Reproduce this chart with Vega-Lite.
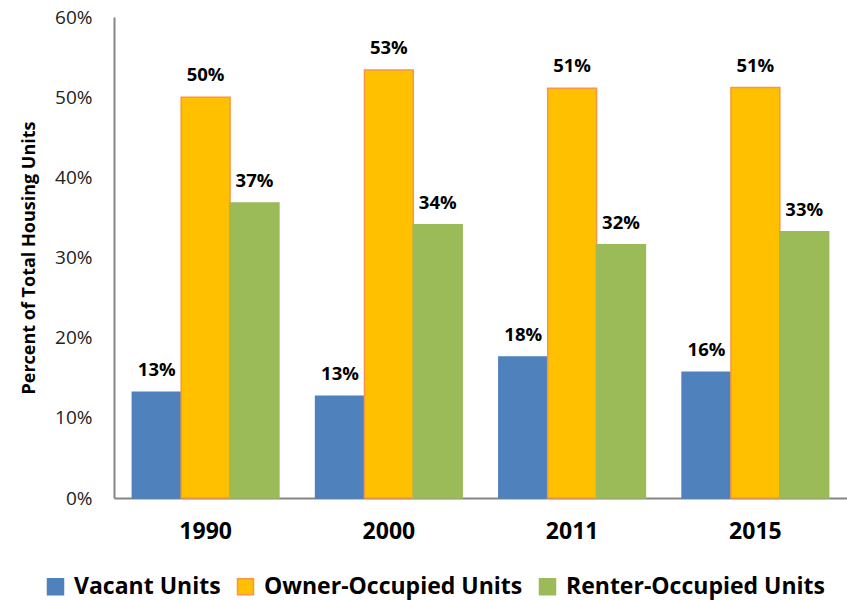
{
  "$schema": "https://vega.github.io/schema/vega-lite/v6.json",
  "autosize": "none",
  "width": 733,
  "height": 481,
  "padding": {"left": 114, "top": 17, "right": 0, "bottom": 102},
  "background": "white",
  "config": {
    "font": "Open Sans",
    "view": {"stroke": null}
  },
  "data": {
    "values": [
      {"year": "1990", "series": "Vacant Units", "value": 0.132},
      {"year": "1990", "series": "Owner-Occupied Units", "value": 0.500},
      {"year": "1990", "series": "Renter-Occupied Units", "value": 0.368},
      {"year": "2000", "series": "Vacant Units", "value": 0.127},
      {"year": "2000", "series": "Owner-Occupied Units", "value": 0.534},
      {"year": "2000", "series": "Renter-Occupied Units", "value": 0.341},
      {"year": "2011", "series": "Vacant Units", "value": 0.176},
      {"year": "2011", "series": "Owner-Occupied Units", "value": 0.511},
      {"year": "2011", "series": "Renter-Occupied Units", "value": 0.316},
      {"year": "2015", "series": "Vacant Units", "value": 0.157},
      {"year": "2015", "series": "Owner-Occupied Units", "value": 0.512},
      {"year": "2015", "series": "Renter-Occupied Units", "value": 0.332}
    ]
  },
  "encoding": {
    "x": {
      "field": "year", "type": "nominal",
      "scale": {"paddingInner": 0.2, "paddingOuter": 0.1},
      "axis": {
        "title": null, "labelAngle": 0, "labelFontSize": 23, "labelFontWeight": "bold",
        "labelColor": "#000", "labelPadding": 22, "ticks": false,
        "domainColor": "#868686", "domainWidth": 2
      }
    },
    "xOffset": {
      "field": "series", "type": "nominal",
      "sort": ["Vacant Units", "Owner-Occupied Units", "Renter-Occupied Units"],
      "scale": {"paddingInner": 0, "paddingOuter": 0}
    },
    "y": {
      "field": "value", "type": "quantitative",
      "scale": {"domain": [0, 0.6]},
      "axis": {
        "title": "Percent of Total Housing Units", "titleFontSize": 18, "titleFontWeight": "bold",
        "titleColor": "#000", "titlePadding": 16,
        "format": ".0%", "values": [0, 0.1, 0.2, 0.3, 0.4, 0.5, 0.6],
        "labelFontSize": 19, "labelColor": "#222", "labelPadding": 22,
        "ticks": false, "grid": false, "domainColor": "#868686", "domainWidth": 2
      }
    }
  },
  "layer": [
    {
      "mark": {"type": "bar", "strokeWidth": 1.5},
      "encoding": {
        "fill": {
          "field": "series", "type": "nominal",
          "sort": ["Vacant Units", "Owner-Occupied Units", "Renter-Occupied Units"],
          "scale": {"domain": ["Vacant Units", "Owner-Occupied Units", "Renter-Occupied Units"], "range": ["#4F81BD", "#FFC000", "#9BBB59"]},
          "legend": {
            "title": null, "orient": "none", "direction": "horizontal",
            "legendX": -70, "legendY": 558,
            "symbolType": "square", "symbolSize": 256, "symbolStrokeWidth": 1.5,
            "labelFontSize": 23, "labelFontWeight": "bold", "labelColor": "#000",
            "labelLimit": 0, "columnPadding": 13, "labelOffset": 7
          }
        },
        "stroke": {
          "field": "series", "type": "nominal",
          "scale": {"domain": ["Vacant Units", "Owner-Occupied Units", "Renter-Occupied Units"], "range": ["#4F81BD", "#F79646", "#9BBB59"]},
          "legend": null
        }
      }
    },
    {
      "mark": {"type": "text", "baseline": "alphabetic", "dy": -16, "fontSize": 18.5, "fontWeight": "bold", "color": "#000"},
      "encoding": {
        "text": {"field": "value", "type": "quantitative", "format": ".0%"}
      }
    }
  ]
}
